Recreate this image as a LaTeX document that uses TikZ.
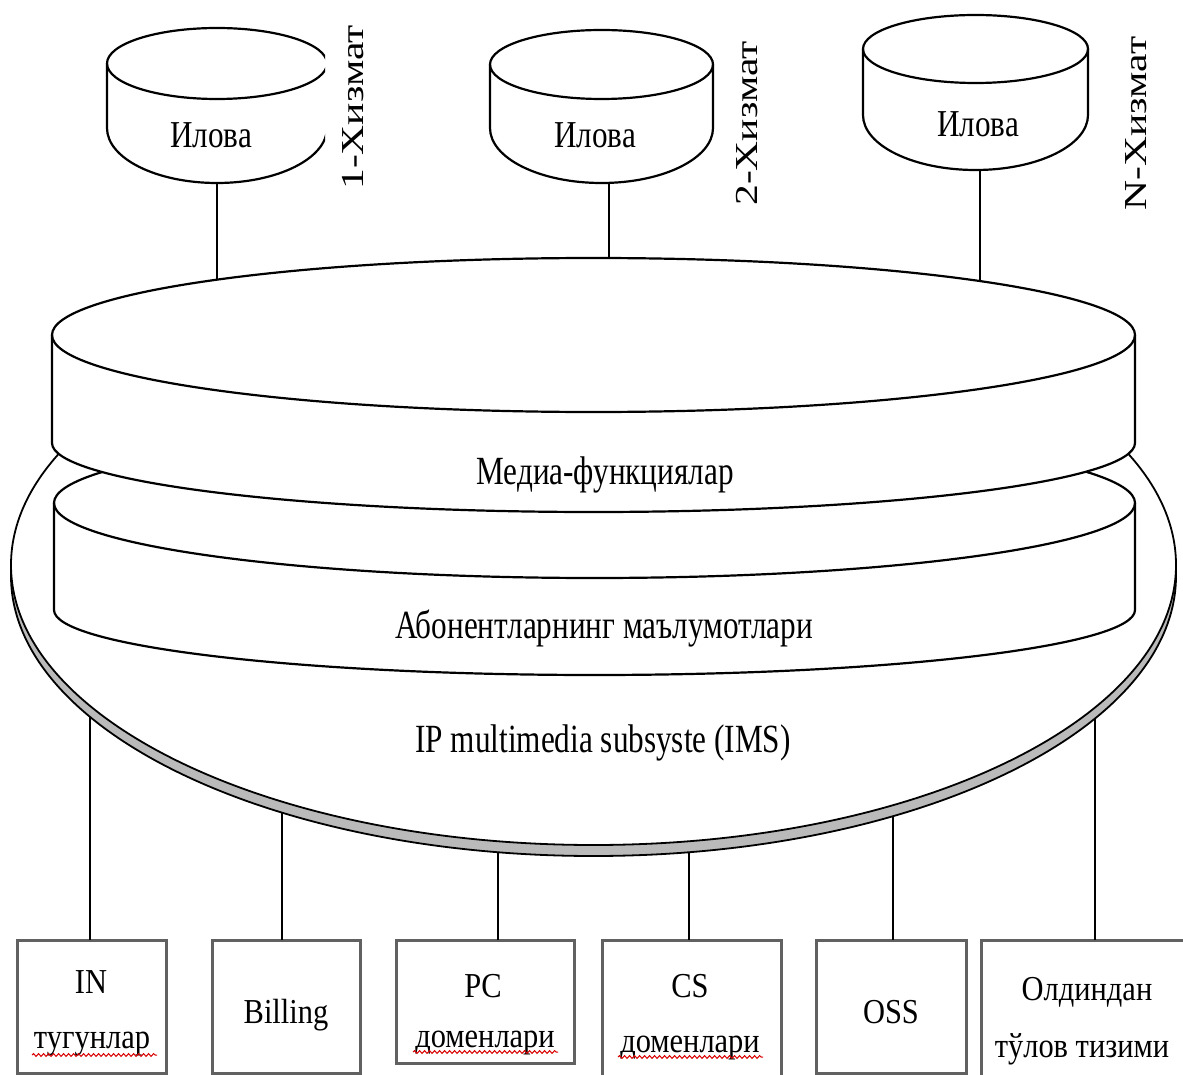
\documentclass[tikz,border=0pt]{standalone}
\usepackage{fontspec}
\usepackage{graphicx}
\setmainfont{Liberation Serif}
\usetikzlibrary{decorations.pathmorphing}

% condensed lettering: #1 = horizontal factor
\newcommand{\cond}[2]{\scalebox{#1}[1]{#2}}
% application store drum: centre x, top-face y, x radius, top-face y radius, body bottom y
\newcommand{\appdrum}[5]{%
  \path[surface] ({#1-#3},#2) arc[start angle=180, end angle=360, x radius=#3, y radius=#4]
     -- ({#1+#3},#5) arc[start angle=0, end angle=180, x radius=#3, y radius=55] -- cycle;
  \draw[wire] ({#1-#3},#2) arc[start angle=180, end angle=0, x radius=#3, y radius=#4];}

\begin{document}
\begin{tikzpicture}[x=1pt, y=-1pt,
  surface/.style={draw=black, line width=2.2pt, fill=white},
  wire/.style={draw=black, line width=2.2pt},
  rim/.style={draw=black, line width=1.8pt},
  sysbox/.style={draw=black!62, line width=3pt, fill=white, inner sep=0pt,
                 outer sep=0pt, anchor=north west},
  boxtext/.style={font=\fontsize{35}{40}\selectfont, inner sep=0pt, anchor=base},
  layertext/.style={font=\fontsize{40}{44}\selectfont, inner sep=0pt, anchor=base},
  apptext/.style={font=\fontsize{38}{42}\selectfont, inner sep=0pt, anchor=base},
  svctext/.style={font=\fontsize{32}{36}\selectfont, inner sep=0pt, rotate=90},
  spellmark/.style={draw=red!85!black, line width=1pt, decorate,
                    decoration={snake, amplitude=1.4pt, segment length=5pt}},
]
\useasboundingbox (0,0) rectangle (1183,1075);
\clip (0,0) rectangle (1183,1075);

% ---------- IMS bowl with its grey rim
\path[rim, fill=black!27] (593.5,576) ellipse [x radius=582.5, y radius=280];
\path[rim, fill=white] (593.5,565) ellipse [x radius=582.5, y radius=280];

% ---------- subscriber data layer
\path[surface] (54,503) arc[start angle=180, end angle=360, x radius=540.5, y radius=75]
  -- (1135,610) arc[start angle=0, end angle=180, x radius=540.5, y radius=65] -- cycle;
\draw[wire] (54,503) arc[start angle=180, end angle=0, x radius=540.5, y radius=75];

% ---------- media functions layer
\path[surface] (52,335) arc[start angle=180, end angle=360, x radius=541.5, y radius=77]
  -- (1135,443) arc[start angle=0, end angle=180, x radius=541.5, y radius=69] -- cycle;
\draw[wire] (52,335) arc[start angle=180, end angle=0, x radius=541.5, y radius=77];

% ---------- application drums
\begin{scope}
  \clip (0,0) rectangle (325,220);
  \appdrum{217}{63.5}{110}{35.5}{128}
\end{scope}
\appdrum{601.5}{64.5}{111.5}{34.5}{128}
\appdrum{975.5}{49}{112.5}{34}{115}

\node[apptext] (app1) at (211,148) {\cond{0.82}{Илова}};
\node[apptext] (app2) at (595,148) {\cond{0.82}{Илова}};
\node[apptext] (app3) at (978,137) {\cond{0.82}{Илова}};

\node[svctext] (svc1) at (353,107.5) {\scalebox{1.3}[1]{1-Хизмат}};
\node[svctext] (svc2) at (747.5,123.5) {\scalebox{1.3}[1]{2-Хизмат}};
\node[svctext] (svc3) at (1136,123.5) {\scalebox{1.3}[1]{N-Хизмат}};

% ---------- links from the applications down to the media layer
\coordinate (a1) at (217,183);   \coordinate (m1) at (217,279.7);
\coordinate (a2) at (609,183);   \coordinate (m2) at (609,258);
\coordinate (a3) at (980,170);   \coordinate (m3) at (980,281);
\draw[wire] (a1) -- (m1);
\draw[wire] (a2) -- (m2);
\draw[wire] (a3) -- (m3);

% ---------- layer captions
\node[layertext] (media) at (605,484) {\cond{0.78}{Медиа-функциялар}};
\node[layertext] (subs)  at (604,638) {\cond{0.78}{Абонентларнинг маълумотлари}};
\node[layertext] (ims)   at (603,752) {\cond{0.78}{IP multimedia subsyste (IMS)}};

% ---------- external systems
\node[sysbox, minimum width=149pt, minimum height=133pt] (bIN)   at (17,940)  {};
\node[sysbox, minimum width=148pt, minimum height=133pt] (bBill) at (212,940) {};
\node[sysbox, minimum width=178pt, minimum height=123pt] (bPC)   at (396,940) {};
\node[sysbox, minimum width=179pt, minimum height=160pt] (bCS)   at (602,940) {};
\node[sysbox, minimum width=150pt, minimum height=133pt] (bOSS)  at (816,940) {};
\node[sysbox, minimum width=230pt, minimum height=160pt] (bPre)  at (981,940) {};

% ---------- links from the bowl rim to the external systems
\coordinate (r1) at (90,716.8);
\coordinate (r2) at (282,812.6);
\coordinate (r3) at (498,852.2);
\coordinate (r4) at (689,852.2);
\coordinate (r5) at (893,816.1);
\coordinate (r6) at (1095,718.4);
\draw[wire] (r1) -- (r1 |- bIN.north);
\draw[wire] (r2) -- (r2 |- bBill.north);
\draw[wire] (r3) -- (r3 |- bPC.north);
\draw[wire] (r4) -- (r4 |- bCS.north);
\draw[wire] (r5) -- (r5 |- bOSS.north);
\draw[wire] (r6) -- (r6 |- bPre.north);

% ---------- box captions
\node[boxtext] (tIN1)  at (91,993)    {\cond{0.87}{IN}};
\node[boxtext] (tIN2)  at (92,1048)   {\cond{0.87}{тугунлар}};
\node[boxtext] (tBill) at (286,1023)  {\cond{0.87}{Billing}};
\node[boxtext] (tPC1)  at (483,997)   {\cond{0.87}{PC}};
\node[boxtext] (tPC2)  at (485,1047)  {\cond{0.87}{доменлари}};
\node[boxtext] (tCS1)  at (690,997)   {\cond{0.87}{CS}};
\node[boxtext] (tCS2)  at (690,1052)  {\cond{0.87}{доменлари}};
\node[boxtext] (tOSS)  at (891,1023)  {\cond{0.87}{OSS}};
\node[boxtext] (tPre1) at (1087,1000) {\cond{0.87}{Олдиндан}};
\node[boxtext] (tPre2) at (1082,1057) {\cond{0.87}{тўлов тизими}};

% wavy proofing marks under the flagged words
\draw[spellmark] (32,1055) -- (157,1055);
\draw[spellmark] (413,1052) -- (558,1052);
\draw[spellmark] (618,1057) -- (763,1057);
\end{tikzpicture}
\end{document}
